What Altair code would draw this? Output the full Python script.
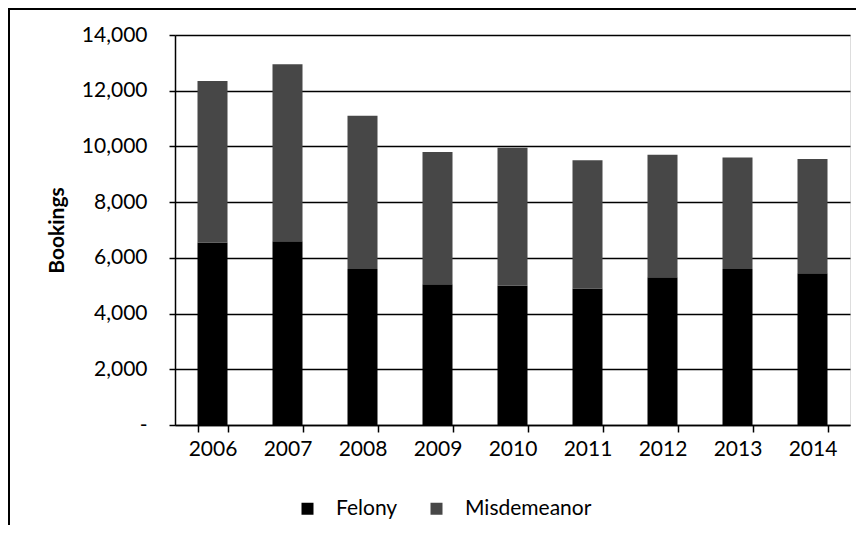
import altair as alt
import pandas as pd

years = ["2006", "2007", "2008", "2009", "2010", "2011", "2012", "2013", "2014"]
felony = [6550, 6600, 5600, 5050, 5000, 4900, 5300, 5600, 5450]
misdemeanor = [5800, 6350, 5500, 4750, 4950, 4600, 4400, 4000, 4100]
series = ["Felony", "Misdemeanor"]
colors = ["#000000", "#474747"]
y_ticks = [0, 2000, 4000, 6000, 8000, 10000, 12000, 14000]

rows = []
for i, yr in enumerate(years):
    rows.append({"Year": yr, "Type": "Felony", "Bookings": felony[i], "ord": 0})
    rows.append({"Year": yr, "Type": "Misdemeanor", "Bookings": misdemeanor[i], "ord": 1})
df = pd.DataFrame(rows)

FONT = "Lato"

bars = alt.Chart(df).mark_bar(size=30).encode(
    x=alt.X("Year:N", sort=years,
            scale=alt.Scale(paddingInner=0.6, paddingOuter=0.3),
            axis=alt.Axis(title=None, labelAngle=0, tickBand="extent", tickSize=7,
                          tickColor="black", tickWidth=1.5, domainColor="black",
                          domainWidth=1.5, labelPadding=6, labelFontSize=21,
                          labelFont=FONT, labelColor="black", grid=False)),
    y=alt.Y("Bookings:Q", stack="zero",
            scale=alt.Scale(domain=[0, 14000], nice=False),
            axis=alt.Axis(title="Bookings", values=y_ticks,
                          labelExpr="datum.value == 0 ? '-' : format(datum.value, ',')",
                          tickSize=6, tickColor="black", tickWidth=1.5,
                          domainColor="black", domainWidth=1.5, labelPadding=22,
                          labelFontSize=21, labelFont=FONT, labelColor="black",
                          titleFont=FONT, titleFontSize=21, titleFontWeight="bold",
                          titleColor="black", titlePadding=14,
                          grid=True, gridColor="black", gridWidth=1.5, gridOpacity=1)),
    color=alt.Color("Type:N", sort=series,
                    scale=alt.Scale(domain=series, range=colors),
                    legend=alt.Legend(title=None, orient="none", legendX=122, legendY=463,
                                      direction="horizontal", columns=2,
                                      symbolType="square", symbolSize=144,
                                      symbolStrokeWidth=0, labelFont=FONT,
                                      labelFontSize=21, labelColor="black",
                                      labelOffset=18, columnPadding=28)),
    order=alt.Order("ord:Q"),
)

border_df = pd.DataFrame({"k": [0]})
left_border = alt.Chart(border_df).mark_rule(color="black", strokeWidth=2).encode(
    x=alt.value(-166), x2=alt.value(-166), y=alt.value(-26), y2=alt.value(500)
)
top_border = alt.Chart(border_df).mark_rule(color="black", strokeWidth=2).encode(
    x=alt.value(-167), x2=alt.value(681), y=alt.value(-26), y2=alt.value(-26)
)

chart = alt.layer(bars, left_border, top_border).properties(
    width=675, height=390,
    padding={"left": 167, "top": 27, "right": 6, "bottom": 100},
    autosize=alt.AutoSizeParams(type="none"),
).configure_view(stroke=None).configure(background="white")

chart.save("out.html", embed_options={"renderer": "svg", "actions": False})
